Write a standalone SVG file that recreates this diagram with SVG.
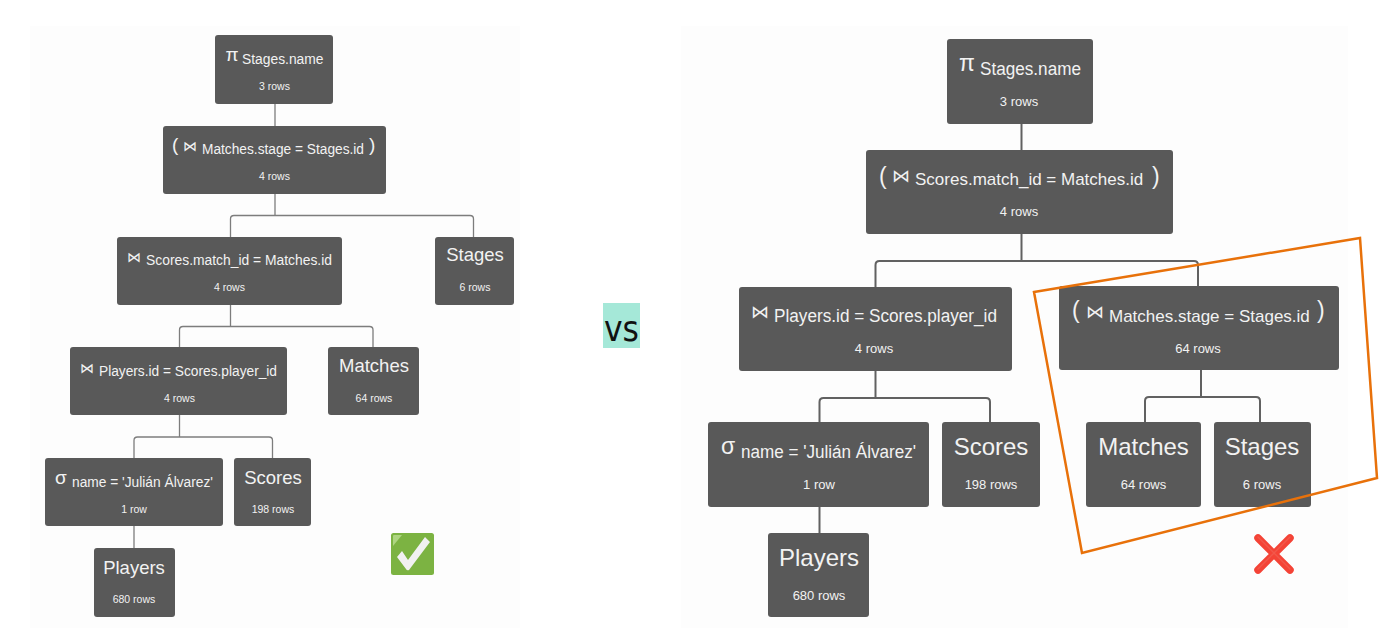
<svg xmlns="http://www.w3.org/2000/svg" width="1396" height="632" viewBox="0 0 1396 632">
<style>
text{font-family:"Liberation Sans",Arial,sans-serif;fill:#f2f2f2;}
.n{fill:#595959;}
.e{fill:none;stroke-linejoin:round;}
.el{stroke:#7d7d7d;stroke-width:1.3;}
.er{stroke:#616161;stroke-width:2;}
.tl{font-size:14px;}
.sl{font-size:18.500px;}
.rl{font-size:10.5px;text-anchor:middle;}
.ol{font-size:19px;}
.tr{font-size:18px;}
.tn{font-size:17px;}
.rr{font-size:13px;text-anchor:middle;}
.or{font-size:23px;}
.br{font-size:24px;}
.nl{text-anchor:middle;}
</style>
<rect width="1396" height="632" fill="#ffffff"/>
<rect id="panel-left" x="30" y="26" width="490" height="602" fill="#fdfdfd"/>
<rect id="panel-right" x="681" y="26" width="667" height="602" fill="#fdfdfd"/>

<g id="connectors">
<g class="e el">
<path d="M275 104V126"/>
<path d="M275 194V215.500"/>
<path d="M230.500 237V219Q230.500 215.500 234 215.500H470Q473.500 215.500 473.500 219V237"/>
<path d="M230.500 305V326.500"/>
<path d="M179.500 347V330Q179.500 326.500 183 326.500H369.500Q373 326.500 373 330V347"/>
<path d="M179.500 415V437"/>
<path d="M134 458V440.500Q134 437 137.500 437H269Q272.500 437 272.500 440.500V458"/>
<path d="M134 526V548"/>
</g>
<g class="e er">
<path d="M1021.500 124V150"/>
<path d="M1021.500 234V261"/>
<path d="M875.500 287V265Q875.500 261 879.500 261H1194Q1198 261 1198 265V286"/>
<path d="M875.500 371V398"/>
<path d="M819.500 422V402Q819.500 398 823.500 398H986Q990 398 990 402V422"/>
<path d="M819.500 507V533"/>
<path d="M1201 370V397"/>
<path d="M1145 422V401Q1145 397 1149 397H1256Q1260 397 1260 401V422"/>
</g>
</g>

<g id="l-project"><rect class="n" x="215" y="35" width="118" height="69" rx="3"/>
<text class="ol" x="225.500" y="61">π</text><text class="tl" x="242" y="64" textLength="81.500" lengthAdjust="spacingAndGlyphs">Stages.name</text><text class="rl" x="274.500" y="90">3 rows</text></g>
<g id="l-join-stage"><rect class="n" x="163" y="126" width="223" height="68" rx="3"/>
<text class="ol" x="172" y="151">(</text><text class="tl" x="183" y="151">⋈</text><text class="tl" x="202" y="154" textLength="162" lengthAdjust="spacingAndGlyphs">Matches.stage = Stages.id</text><text class="ol" x="369" y="151">)</text><text class="rl" x="274.500" y="180">4 rows</text></g>
<g id="l-join-match"><rect class="n" x="117" y="237" width="225" height="68" rx="3"/>
<text class="tl" x="127" y="262">⋈</text><text class="tl" x="146" y="265" textLength="186" lengthAdjust="spacingAndGlyphs">Scores.match_id = Matches.id</text><text class="rl" x="229.500" y="291">4 rows</text></g>
<g id="l-stages"><rect class="n" x="435" y="237" width="79" height="68" rx="3"/>
<text class="sl nl" x="475" y="261">Stages</text><text class="rl" x="475" y="291">6 rows</text></g>
<g id="l-join-player"><rect class="n" x="70" y="347" width="217" height="68" rx="3"/>
<text class="tl" x="80" y="373">⋈</text><text class="tl" x="99" y="376" textLength="178" lengthAdjust="spacingAndGlyphs">Players.id = Scores.player_id</text><text class="rl" x="179.500" y="402">4 rows</text></g>
<g id="l-matches"><rect class="n" x="328" y="347" width="91" height="68" rx="3"/>
<text class="sl nl" x="374" y="372">Matches</text><text class="rl" x="374" y="402">64 rows</text></g>
<g id="l-select"><rect class="n" x="45" y="458" width="178" height="68" rx="3"/>
<text class="ol" x="55" y="484">σ</text><text class="tl" x="72" y="487" textLength="141" lengthAdjust="spacingAndGlyphs">name = 'Julián Álvarez'</text><text class="rl" x="134" y="513">1 row</text></g>
<g id="l-scores"><rect class="n" x="234" y="458" width="77" height="68" rx="3"/>
<text class="sl nl" x="273" y="484">Scores</text><text class="rl" x="273" y="513">198 rows</text></g>
<g id="l-players"><rect class="n" x="94" y="548" width="81" height="69" rx="3"/>
<text class="sl nl" x="134" y="574">Players</text><text class="rl" x="134" y="603">680 rows</text></g>

<g id="r-project"><rect class="n" x="947" y="39" width="146" height="85" rx="3"/>
<text class="or" x="959" y="71">π</text><text class="tr" x="980" y="75" textLength="101" lengthAdjust="spacingAndGlyphs">Stages.name</text><text class="rr" x="1019" y="106">3 rows</text></g>
<g id="r-join-match"><rect class="n" x="866" y="150" width="307" height="84" rx="3"/>
<text class="or" x="879" y="184">(</text><text class="tr" x="892" y="182">⋈</text><text class="tn" x="915" y="185">Scores.match_id = Matches.id</text><text class="or" x="1152" y="184">)</text><text class="rr" x="1019" y="216">4 rows</text></g>
<g id="r-join-player"><rect class="n" x="739" y="287" width="273" height="84" rx="3"/>
<text class="tr" x="751" y="318">⋈</text><text class="tr" x="774" y="322" textLength="223" lengthAdjust="spacingAndGlyphs">Players.id = Scores.player_id</text><text class="rr" x="874" y="353">4 rows</text></g>
<g id="r-join-stage"><rect class="n" x="1059" y="286" width="280" height="84" rx="3"/>
<text class="or" x="1072" y="318">(</text><text class="tr" x="1086" y="318">⋈</text><text class="tn" x="1109" y="322">Matches.stage = Stages.id</text><text class="or" x="1317" y="318">)</text><text class="rr" x="1198" y="353">64 rows</text></g>
<g id="r-select"><rect class="n" x="708" y="422" width="221" height="85" rx="3"/>
<text class="or" x="721" y="454">σ</text><text class="tr" x="741" y="458" textLength="175" lengthAdjust="spacingAndGlyphs">name = 'Julián Álvarez'</text><text class="rr" x="819" y="489">1 row</text></g>
<g id="r-scores"><rect class="n" x="942" y="422" width="98" height="85" rx="3"/>
<text class="br nl" x="991" y="455">Scores</text><text class="rr" x="991" y="489">198 rows</text></g>
<g id="r-matches"><rect class="n" x="1086" y="422" width="115" height="85" rx="3"/>
<text class="br nl" x="1143.500" y="455">Matches</text><text class="rr" x="1143.500" y="489">64 rows</text></g>
<g id="r-stages"><rect class="n" x="1214" y="422" width="97" height="85" rx="3"/>
<text class="br nl" x="1262" y="455">Stages</text><text class="rr" x="1262" y="489">6 rows</text></g>
<g id="r-players"><rect class="n" x="768" y="533" width="101" height="84" rx="3"/>
<text class="br nl" x="819" y="566">Players</text><text class="rr" x="819" y="600">680 rows</text></g>

<polygon id="highlight" points="1034,292 1360,238 1377,478 1082,553" fill="none" stroke="#e8710a" stroke-width="2.500"/>

<g id="vs"><rect x="603" y="303" width="37" height="45" fill="#a5e8d8"/>
<text x="604" y="341" textLength="35" lengthAdjust="spacingAndGlyphs" style="font-family:'DejaVu Sans',sans-serif;font-size:35px;fill:#111111">vs</text></g>

<g id="check"><rect x="391" y="533" width="43" height="42" rx="2.500" fill="#7cb342"/>
<path d="M393 546V536Q393 535 394 535H402Z" fill="#aed581"/>
<path d="M397 557L402 551L408 560L425 537L430 542L409 570Q407 571 406 569Z" fill="#f1f1f1"/></g>

<g id="cross">
<path d="M1258 538L1290 570M1290 538L1258 570" fill="none" stroke="#f44336" stroke-width="7.500" stroke-linecap="round"/>
<path d="M1258 537L1290 569M1290 537L1258 569" fill="none" stroke="#ef6c5e" stroke-width="1.500" stroke-linecap="round" opacity="0.500"/></g>
</svg>
